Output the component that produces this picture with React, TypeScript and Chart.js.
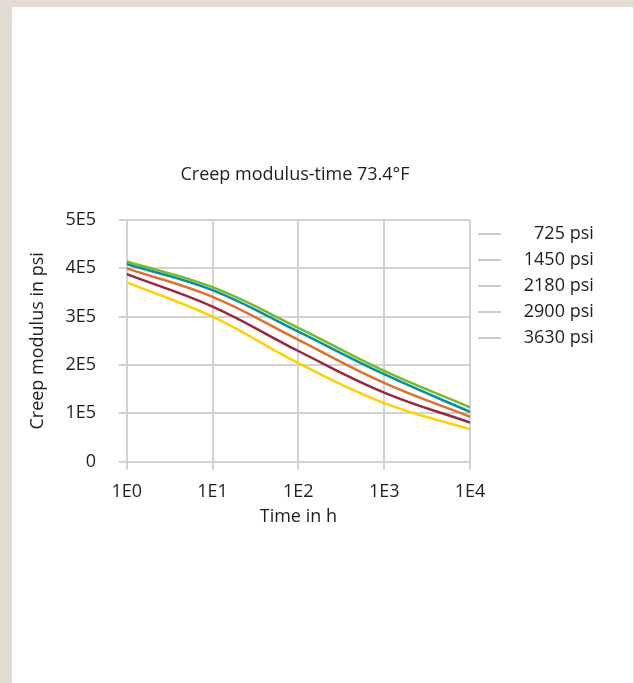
import React, { useEffect, useRef } from "react";
import { Chart, registerables } from "chart.js";

Chart.register(...registerables);

const times = [1, 10, 100, 1000, 10000];
const xTickValues = [1, 10, 100, 1000, 10000];
const xTickLabels = ["1E0", "1E1", "1E2", "1E3", "1E4"];
const yTickLabels = ["0", "1E5", "2E5", "3E5", "4E5", "5E5"];

const seriesLabels = ["725 psi", "1450 psi", "2180 psi", "2900 psi", "3630 psi"];
const s725 = [414000, 361000, 277000, 188000, 112500];
const s1450 = [409000, 355000, 269000, 181000, 103000];
const s2180 = [400000, 341000, 252000, 163000, 93000];
const s2900 = [388000, 321000, 229000, 143000, 81000];
const s3630 = [371000, 300000, 204000, 121000, 67000];
const seriesColors = ["#7ab828", "#00939a", "#e0702f", "#9b2642", "#ffd100"];

const FONT = "'Open Sans', 'Noto Sans', sans-serif";
const TEXT = "#1e1e1e";
const GRID = "#d3d3d3";

export default function App() {
  const ref = useRef<HTMLCanvasElement | null>(null);

  useEffect(() => {
    if (!ref.current) return;
    const all = [s725, s1450, s2180, s2900, s3630];
    const chart = new Chart(ref.current, {
      type: "line",
      data: {
        datasets: all.map((vals, i) => ({
          label: seriesLabels[i],
          data: vals.map((v, j) => ({ x: times[j], y: v })),
          borderColor: seriesColors[i],
          backgroundColor: seriesColors[i],
          borderWidth: 2.5,
          pointRadius: 0,
          tension: 0.4,
          fill: false,
        })),
      },
      options: {
        responsive: false,
        animation: false,
        layout: { padding: { left: -6, right: 38, top: 0, bottom: 0 } },
        font: { family: FONT, size: 18 },
        color: TEXT,
        plugins: {
          title: {
            display: true,
            text: "Creep modulus-time 73.4°F",
            color: TEXT,
            font: { family: FONT, size: 18, weight: "normal" },
            padding: { top: 164.2, bottom: 34.2 },
          },
          legend: {
            display: true,
            position: "right",
            align: "start",
            fullSize: false,
            maxWidth: 126,
            title: {
              display: true,
              text: " ",
              font: { family: FONT, size: 1 },
              padding: { top: -4.2, bottom: 0 },
            },
            labels: {
              font: { family: FONT, size: 18 },
              color: TEXT,
              boxWidth: 23,
              boxHeight: 2,
              padding: 8,
              generateLabels: (c: any) =>
                c.data.datasets.map((ds: any, i: number) => ({
                  text:
                    "\u2002\u2009\u200A" +
                    (ds.label.length < 8 ? "\u2007" : "") +
                    ds.label,
                  fillStyle: "#cccccc",
                  strokeStyle: "#cccccc",
                  lineWidth: 0,
                  hidden: false,
                  datasetIndex: i,
                  fontColor: TEXT,
                })),
            },
          },
          tooltip: { enabled: false },
        },
        scales: {
          x: {
            type: "logarithmic",
            position: "bottom",
            min: 1,
            max: 10000,
            afterBuildTicks: (scale: any) => {
              scale.ticks = xTickValues.map((v) => ({ value: v }));
            },
            afterFit: (scale: any) => {
              scale.height = 221.3;
            },
            ticks: {
              autoSkip: false,
              maxRotation: 0,
              padding: 11.2,
              color: TEXT,
              font: { family: FONT, size: 18 },
              callback: (_v: any, i: number) => xTickLabels[i],
            },
            grid: { color: GRID, lineWidth: 2, tickLength: 8, tickColor: GRID },
            border: { color: GRID, width: 2 },
            title: {
              display: true,
              text: "Time in h",
              color: TEXT,
              font: { family: FONT, size: 18 },
              padding: { top: 0, bottom: 155.5 },
            },
          },
          y: {
            type: "linear",
            min: 0,
            max: 500000,
            afterFit: (scale: any) => {
              scale.width = 132.7;
            },
            ticks: {
              stepSize: 100000,
              padding: 22.7,
              color: TEXT,
              font: { family: FONT, size: 18 },
              callback: (_v: any, i: number) => yTickLabels[i],
            },
            grid: { color: GRID, lineWidth: 2, tickLength: 8, tickColor: GRID },
            border: { color: GRID, width: 2 },
            title: {
              display: true,
              text: "Creep modulus in psi",
              color: TEXT,
              font: { family: FONT, size: 18 },
              padding: { top: 33.2, bottom: 0 },
            },
          },
        },
      },
    } as any);
    return () => chart.destroy();
  }, []);

  return (
    <div
      style={{
        position: "absolute",
        left: 0,
        top: 0,
        width: 634,
        height: 683,
        background: "#e0dcd4",
        overflow: "hidden",
      }}
    >
      <div
        style={{
          position: "absolute",
          left: 12,
          top: 7,
          width: 621,
          height: 676,
          background: "#ffffff",
        }}
      />
      <canvas
        ref={ref}
        width={634}
        height={683}
        style={{ position: "absolute", left: 0, top: 0, display: "block" }}
      />
    </div>
  );
}
